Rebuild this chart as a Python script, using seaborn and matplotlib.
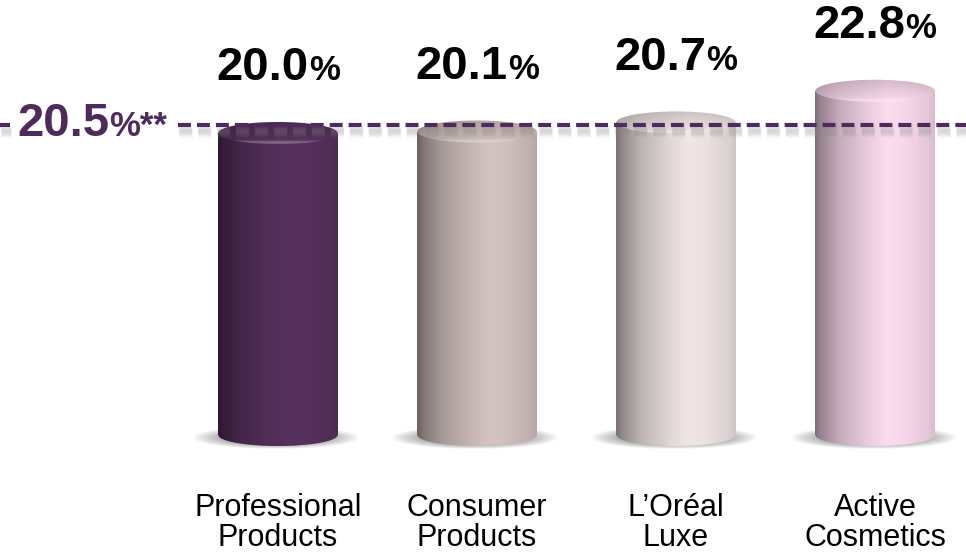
import numpy as np
import matplotlib
matplotlib.use("Agg")
import matplotlib.pyplot as plt
import matplotlib.transforms as mtransforms
import matplotlib.patheffects as pe
from matplotlib.patches import Ellipse, Rectangle
from matplotlib.colors import to_rgb
import seaborn as sns

# Operating margin by division (%)
categories = ["Professional Products", "Consumer Products", "L\u2019Or\u00e9al Luxe", "Active Cosmetics"]
tick_labels = ["Professional\nProducts", "Consumer\nProducts", "L\u2019Or\u00e9al\nLuxe", "Active\nCosmetics"]
margins = [20.0, 20.1, 20.7, 22.8]
group_margin = 20.5
group_label_suffix = "%**"

bar_colors = ["#58325f", "#d4c3c0", "#f0e6e5", "#fcdcef"]
accent = "#4f2a5c"

sns.set_theme(style="white")
plt.rcParams["font.family"] = ["Liberation Sans", "DejaVu Sans"]

fig = plt.figure(figsize=(9.66, 5.54), dpi=100)
ax = fig.add_axes([0, 0, 1, 1])
ax.axis("off")

sns.barplot(x=categories, y=margins, hue=categories, palette=bar_colors,
            legend=False, width=0.6, ax=ax, saturation=1)

XLIM = (-1.397, 3.457)
YLIM = (-7.88, 28.81)
cap_h = 1.46  # ellipse height of the cylinder caps, in data units

# horizontal shading profile of a lit cylinder
prof_t = [0, 0.05, 0.2, 0.45, 0.6, 0.75, 0.95, 1.0]
prof_k = [0.5, 0.6, 0.78, 0.93, 1.0, 0.98, 0.9, 0.86]
tt = np.linspace(0, 1, 200)
kk = np.interp(tt, prof_t, prof_k)

bars = [p for p in ax.patches if isinstance(p, Rectangle)]
for p, col in zip(bars, bar_colors):
    x0, w, h = p.get_x(), p.get_width(), p.get_height()
    cx = x0 + w / 2
    p.set_facecolor("none")
    p.set_edgecolor("none")
    base = np.array(to_rgb(col))

    # soft floor shadow
    gx = np.linspace(-0.46, 0.46, 240)
    gy = np.linspace(-1.2, 1.0, 80)
    GX, GY = np.meshgrid(gx, gy)
    r = np.sqrt(((GX + 0.01) / 0.42) ** 2 + ((GY + 0.2) / 0.75) ** 2)
    alpha = np.clip(1.4 * (1 - r), 0, 0.85) ** 0.9
    shadow = np.zeros(GX.shape + (4,))
    shadow[..., :3] = 0.42
    shadow[..., 3] = alpha
    ax.imshow(shadow, extent=[cx - 0.46, cx + 0.46, -1.2, 1.0], origin="lower",
              aspect="auto", interpolation="bilinear", zorder=1)

    # cylinder body
    body = np.clip(base[None, None, :] * kk[None, :, None], 0, 1)
    body = np.repeat(body, 2, axis=0)
    rect = Rectangle((x0, 0), w, h, transform=ax.transData, facecolor="none", edgecolor="none")
    ax.add_patch(rect)
    bot = Ellipse((cx, 0), w, cap_h, transform=ax.transData, facecolor="none", edgecolor="none")
    ax.add_patch(bot)
    for clip in (rect, bot):
        im = ax.imshow(body, extent=[x0, x0 + w, -cap_h / 2, h], origin="lower",
                       aspect="auto", interpolation="bicubic", zorder=2)
        im.set_clip_path(clip)

    # top face
    vv = np.linspace(0, 1, 60)[:, None]  # 0 = front, 1 = back
    topk = (0.55 + 0.45 * kk[None, :]) * (1.0 - 0.16 * vv)
    top = base[None, None, :] * topk[..., None]
    rim = np.exp(-((vv - 0.06) / 0.07) ** 2)[..., None]
    top = np.clip(top + (1 - top) * 0.3 * rim, 0, 1)
    topell = Ellipse((cx, h), w, cap_h, transform=ax.transData, facecolor="none", edgecolor="none")
    ax.add_patch(topell)
    im = ax.imshow(top, extent=[x0, x0 + w, h - cap_h / 2, h + cap_h / 2], origin="lower",
                   aspect="auto", interpolation="bicubic", zorder=3)
    im.set_clip_path(topell)

# group average dashed line, interrupted by its label
px_x = (XLIM[1] - XLIM[0]) / 966.0
segments = [(XLIM[0], XLIM[0] + 10 * px_x), (XLIM[0] + 178 * px_x, XLIM[1])]
blur = [pe.SimpleLineShadow(offset=(1, -4), shadow_color="#8a8a8a", alpha=0.09, linewidth=lw)
        for lw in (9, 7, 5, 3)]
for a, b in segments:
    ax.plot([a, b], [group_margin, group_margin], color=accent, lw=3,
            linestyle=(0, (3.1, 1.45)), dash_capstyle="butt", zorder=5,
            path_effects=blur + [pe.Normal()])

fig.canvas.draw()
renderer = fig.canvas.get_renderer()


def rich_text(x, y, parts, color, centered=True):
    items = []
    for s, size in parts:
        t = ax.text(x, y, s, fontsize=size, fontweight="bold", color=color,
                    va="baseline", ha="left", zorder=6)
        items.append(t)
    widths = [t.get_window_extent(renderer).width for t in items]
    off = -sum(widths) / 2 if centered else 0.0
    for t, wd in zip(items, widths):
        t.set_transform(mtransforms.offset_copy(ax.transData, fig=fig, x=off, y=0, units="dots"))
        off += wd


for i, v in enumerate(margins):
    rich_text(i, v + 3.5, [(f"{v:.1f}", 34), ("%", 25)], "black")

rich_text(XLIM[0] + 17 * px_x, group_margin - 0.7,
          [(f"{group_margin:.1f}", 34), (group_label_suffix, 25)], accent, centered=False)

for i, lab in enumerate(tick_labels):
    ax.text(i, -3.85, lab, ha="center", va="top", fontsize=22, color="black",
            linespacing=0.98, zorder=6)

ax.set_xlim(*XLIM)
ax.set_ylim(*YLIM)

fig.savefig("out.png", dpi=100, facecolor="white")
